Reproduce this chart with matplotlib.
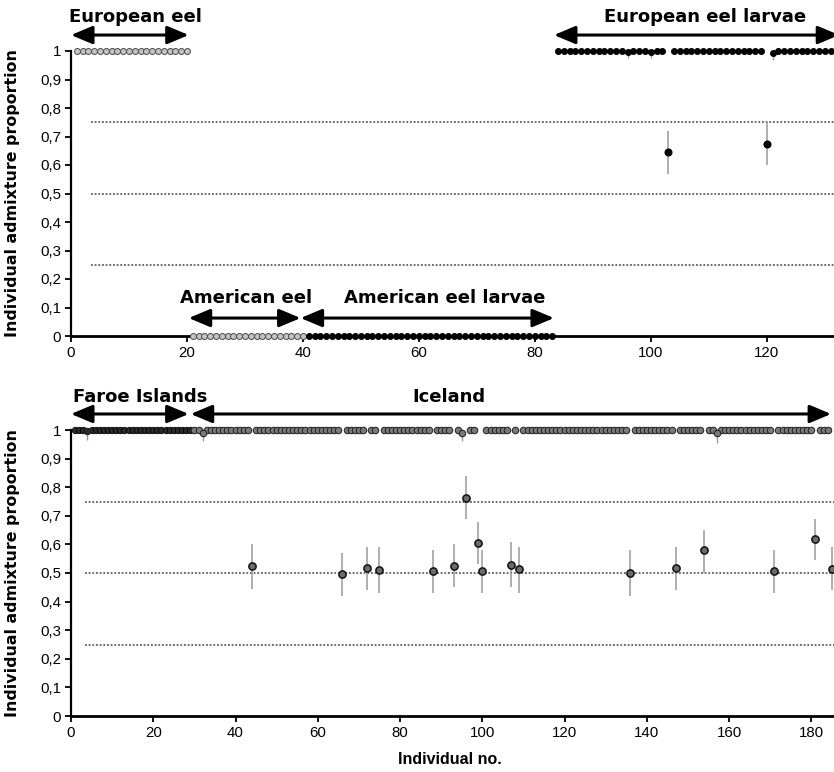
import matplotlib
matplotlib.use("Agg")
import matplotlib.pyplot as plt
from matplotlib.ticker import FuncFormatter, MultipleLocator
import numpy as np

# ---- data ----
# top panel: reference samples and larvae
eur_eel_ids = np.arange(1, 21)
am_eel_ids = np.arange(21, 41)
am_larvae_ids = np.arange(41, 84)
eur_larvae_ids = np.arange(84, 132)

top_outlier_ids = [103, 120]
top_outlier_vals = [0.645, 0.672]
top_outlier_lo = [0.57, 0.60]
top_outlier_hi = [0.72, 0.75]

top_tick_ids = [96, 100, 121]
top_tick_vals = [0.997, 0.997, 0.993]
top_tick_lo = [0.975, 0.975, 0.97]

# bottom panel: Faroe Islands and Iceland
faroe_ids = np.arange(1, 30)
iceland_ids = np.arange(30, 186)

bot_outlier_ids = [44, 66, 72, 75, 88, 93, 96, 99, 100, 107, 109,
                   136, 147, 154, 171, 181, 185]
bot_outlier_vals = [0.524, 0.495, 0.517, 0.510, 0.507, 0.526, 0.762, 0.605,
                    0.507, 0.529, 0.513, 0.500, 0.519, 0.579, 0.507, 0.620,
                    0.513]
bot_outlier_lo = [0.445, 0.42, 0.44, 0.43, 0.43, 0.45, 0.69, 0.53,
                  0.43, 0.45, 0.43, 0.42, 0.44, 0.50, 0.43, 0.545, 0.44]
bot_outlier_hi = [0.60, 0.57, 0.59, 0.59, 0.58, 0.60, 0.84, 0.68,
                  0.58, 0.61, 0.59, 0.58, 0.59, 0.65, 0.58, 0.69, 0.59]

bot_tick_ids = [4, 32, 95, 157]
bot_tick_vals = [0.995, 0.99, 0.99, 0.99]
bot_tick_lo = [0.965, 0.96, 0.96, 0.955]

ref_lines = [0.25, 0.5, 0.75]
y_ticks = [0, 0.1, 0.2, 0.3, 0.4, 0.5, 0.6, 0.7, 0.8, 0.9, 1]

ERR = '#9a9a9a'
BOLD = 'DejaVu Sans'
REG = ['Liberation Sans', 'DejaVu Sans']


def comma(v, pos):
    return ('%g' % round(v, 2)).replace('.', ',')


def drop(ids, skip):
    return np.array([i for i in ids if i not in skip])


def style_axis(ax, xmax):
    ax.set_xlim(0, xmax)
    ax.set_ylim(0, 1)
    for s in ['top', 'right']:
        ax.spines[s].set_visible(False)
    ax.spines['left'].set_linewidth(1.6)
    ax.spines['bottom'].set_linewidth(2.0)
    ax.set_yticks(y_ticks)
    ax.yaxis.set_major_formatter(FuncFormatter(comma))
    ax.xaxis.set_major_locator(MultipleLocator(20))
    ax.tick_params(direction='out', length=4, width=1.3, labelsize=10.8, pad=3)
    for lab in ax.get_xticklabels() + ax.get_yticklabels():
        lab.set_family(REG)
    for y in ref_lines:
        ax.axhline(y, xmin=3.5 / xmax, color='#444444', lw=1.1, ls=(0, (1.2, 1.2)), zorder=1)
    ax.set_ylabel('Individual admixture proportion', fontfamily=BOLD,
                  fontweight='bold', fontsize=11.4)
    ax.yaxis.set_label_coords(-0.067, 0.5)


def arrow(ax, x0, x1, y):
    ax.annotate('', xy=(x1, y), xytext=(x0, y), xycoords='data', annotation_clip=False,
                arrowprops=dict(arrowstyle='<|-|>,head_length=1.0,head_width=0.42',
                                mutation_scale=13, lw=2.2, color='black',
                                shrinkA=0, shrinkB=0))


def label(ax, x, y, txt):
    ax.text(x, y, txt, ha='center', va='center', fontfamily=BOLD, fontweight='bold',
            fontsize=13, clip_on=False)


fig = plt.figure(figsize=(8.34, 7.72), dpi=100)
W, H = 834.0, 772.0
ax1 = fig.add_axes([71 / W, (H - 336) / H, (W - 71) / W, 285 / H])
ax2 = fig.add_axes([71 / W, (H - 716) / H, (W - 71) / W, 286 / H])

# ---- top panel ----
style_axis(ax1, 131.6)
skip_top = set(top_outlier_ids) | set(top_tick_ids)
kw = dict(ls='none', marker='o', clip_on=False, zorder=3)
ax1.plot(eur_eel_ids, np.ones(len(eur_eel_ids)), ms=4.3, mfc='#c4c4c4', mec='#4a4a4a', mew=0.7, **kw)
ax1.plot(am_eel_ids, np.zeros(len(am_eel_ids)), ms=4.3, mfc='#c4c4c4', mec='#4a4a4a', mew=0.7, **kw)
ax1.plot(am_larvae_ids, np.zeros(len(am_larvae_ids)), ms=4.4, mfc='black', mec='black', mew=0.6, **kw)
xs = drop(eur_larvae_ids, skip_top)
ax1.plot(xs, np.ones(len(xs)), ms=4.4, mfc='black', mec='black', mew=0.6, **kw)
ax1.vlines(top_tick_ids, top_tick_lo, top_tick_vals, color=ERR, lw=1, zorder=2)
ax1.plot(top_tick_ids, top_tick_vals, ms=4.4, mfc='black', mec='black', mew=0.6, **kw)
ax1.vlines(top_outlier_ids, top_outlier_lo, top_outlier_hi, color=ERR, lw=1.1, zorder=2)
ax1.plot(top_outlier_ids, top_outlier_vals, ms=4.8, mfc='black', mec='black', **kw)

arrow(ax1, 0, 20.3, 1.056)
label(ax1, 11.2, 1.118, 'European eel')
arrow(ax1, 20.3, 39.6, 0.063)
arrow(ax1, 39.6, 83.3, 0.063)
label(ax1, 30.2, 0.133, 'American eel')
label(ax1, 64.5, 0.133, 'American eel larvae')
arrow(ax1, 83.3, 132.5, 1.056)
label(ax1, 109.3, 1.118, 'European eel larvae')

# ---- bottom panel ----
style_axis(ax2, 185.5)
skip_bot = set(bot_outlier_ids) | set(bot_tick_ids)
xs = drop(faroe_ids, skip_bot)
ax2.plot(xs, np.ones(len(xs)), ms=4.6, mfc='#2a2a2a', mec='black', mew=0.6, **kw)
xs = drop(iceland_ids, skip_bot)
ax2.plot(xs, np.ones(len(xs)), ms=4.7, mfc='#7a7a7a', mec='#1e1e1e', mew=0.7, **kw)
ax2.vlines(bot_tick_ids, bot_tick_lo, bot_tick_vals, color=ERR, lw=1, zorder=2)
tick_fc = ['#2a2a2a' if i < 30 else '#7a7a7a' for i in bot_tick_ids]
for i, v, fc in zip(bot_tick_ids, bot_tick_vals, tick_fc):
    ax2.plot([i], [v], ms=4.7, mfc=fc, mec='#1e1e1e', mew=0.7, **kw)
ax2.vlines(bot_outlier_ids, bot_outlier_lo, bot_outlier_hi, color=ERR, lw=1.1, zorder=2)
ax2.plot(bot_outlier_ids, bot_outlier_vals, ms=5.2, mfc='#6c6c6c', mec='#111111', mew=1.1, **kw)

arrow(ax2, 0, 28.6, 1.056)
label(ax2, 16.8, 1.115, 'Faroe Islands')
arrow(ax2, 29.1, 184.8, 1.056)
label(ax2, 91.8, 1.115, 'Iceland')

fig.text(450 / W, 1 - 760 / H, 'Individual no.', ha='center', va='center',
         fontfamily=REG, fontweight='bold', fontsize=11.5)

fig.savefig('out.png', dpi=100)
